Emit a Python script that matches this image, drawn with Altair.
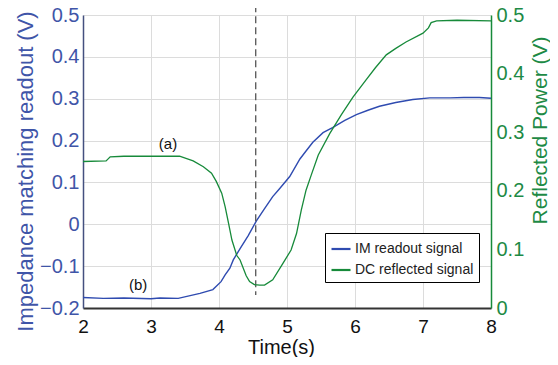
import altair as alt
import pandas as pd

# ---- data ----
im_time = [2.0, 2.3, 2.6, 3.0, 3.13, 3.4, 3.72, 3.91, 4.03, 4.09, 4.16, 4.21, 4.31, 4.43,
           4.55, 4.66, 4.79, 4.89, 5.04, 5.19, 5.28, 5.38, 5.53, 5.67, 5.85, 6.02, 6.2,
           6.36, 6.6, 6.85, 7.1, 7.4, 7.6, 7.83, 8.0]
im_value = [-0.175, -0.177, -0.176, -0.178, -0.176, -0.177, -0.165, -0.156, -0.137, -0.121,
            -0.105, -0.085, -0.058, -0.027, 0.008, 0.035, 0.066, 0.085, 0.114, 0.156, 0.175,
            0.196, 0.219, 0.231, 0.248, 0.262, 0.273, 0.282, 0.291, 0.298, 0.302, 0.302,
            0.303, 0.303, 0.301]

dc_time = [2.0, 2.34, 2.4, 2.6, 3.13, 3.42, 3.62, 3.77, 3.89, 3.96, 4.04, 4.09, 4.14, 4.19,
           4.26, 4.31, 4.40, 4.45, 4.52, 4.6, 4.67, 4.79, 4.94, 5.06, 5.14, 5.21, 5.28, 5.36,
           5.46, 5.63, 5.8, 5.97, 6.16, 6.3, 6.46, 6.6, 6.75, 7.0, 7.08, 7.12, 7.2, 7.5, 8.0]
dc_value = [0.250, 0.251, 0.258, 0.259, 0.259, 0.259, 0.251, 0.241, 0.230, 0.216, 0.196,
            0.173, 0.145, 0.116, 0.090, 0.082, 0.055, 0.045, 0.040, 0.039, 0.039, 0.048,
            0.076, 0.099, 0.127, 0.167, 0.201, 0.228, 0.261, 0.298, 0.330, 0.360, 0.389,
            0.410, 0.432, 0.443, 0.454, 0.469, 0.478, 0.487, 0.490, 0.491, 0.490]

series_names = ["IM readout signal", "DC reflected signal"]
x_ticks = [2, 3, 4, 5, 6, 7, 8]
left_ticks = [-0.2, -0.1, 0, 0.1, 0.2, 0.3, 0.4, 0.5]
right_ticks = [0, 0.1, 0.2, 0.3, 0.4, 0.5]
marker_time = [4.54]
marker_top = [0.523]
marker_bottom = [-0.169]
note_text = ["(a)", "(b)"]
note_time = [3.25, 2.81]
note_value = [0.191, -0.145]

BLUE_LINE = "#2f4bb0"
BLUE_TEXT = "#3f55a8"
GREEN_LINE = "#178a3a"
GREEN_TEXT = "#1d8a45"
FONT = "Liberation Sans"

im_df = pd.DataFrame({"t": im_time, "v": im_value, "series": series_names[0]})
dc_df = pd.DataFrame({"t": dc_time, "v": dc_value, "series": series_names[1]})
rule_df = pd.DataFrame({"t": marker_time, "y1": marker_top, "y2": marker_bottom})
note_df = pd.DataFrame({"t": note_time, "v": note_value, "label": note_text})

color = alt.Color(
    "series:N",
    scale=alt.Scale(domain=series_names, range=[BLUE_LINE, GREEN_LINE]),
    sort=series_names,
    legend=alt.Legend(
        title=None, orient="none", legendX=242, legendY=218, direction="vertical",
        symbolType="stroke", symbolSize=361, symbolStrokeWidth=2.2,
        labelFont=FONT, labelFontSize=14, labelColor="#222", labelOffset=3,
        fillColor="white", strokeColor="black", padding=5, rowPadding=3,
    ),
)

xenc = alt.X(
    "t:Q",
    scale=alt.Scale(domain=[2, 8], nice=False, zero=False),
    axis=alt.Axis(
        values=x_ticks, format="d", title="Time(s)", ticks=False, labelFlush=False,
        labelFont=FONT, labelFontSize=19, labelColor="#111", labelPadding=9,
        titleFont=FONT, titleFontSize=20, titleFontWeight="normal", titleColor="#111",
        titleX=198, titleY=49, titleBaseline="bottom", titleAlign="center",
        domainColor="#333", domainWidth=2, grid=True, gridColor="#dcdcdc",
    ),
)

left_axis = alt.Axis(
    values=left_ticks, title="Impedance matching readout (V)", labelFlush=False,
    labelExpr="datum.value == 0 ? '0' : replace(format(datum.value, '.1f'), '-', '\u2212')",
    labelFont=FONT, labelFontSize=20, labelColor=BLUE_TEXT, labelPadding=4, ticks=False,
    titleFont=FONT, titleFontSize=22, titleFontWeight="normal", titleColor=BLUE_TEXT,
    titleAngle=270, titleX=-58, titleY=156, titleBaseline="middle", titleAlign="center",
    domainColor="#44507f", domainWidth=1.5, grid=True, gridColor="#dcdcdc",
)

right_axis = alt.Axis(
    orient="right", values=right_ticks, title="Reflected Power (V)", labelFlush=False,
    labelExpr="datum.value == 0 ? '0' : format(datum.value, '.1f')",
    labelFont=FONT, labelFontSize=20, labelColor=GREEN_TEXT, labelPadding=5, ticks=False,
    titleFont=FONT, titleFontSize=21, titleFontWeight="normal", titleColor=GREEN_TEXT,
    titleAngle=270, titleX=55, titleY=115, titleBaseline="alphabetic", titleAlign="center",
    domainColor=GREEN_LINE, domainWidth=1.5, grid=False,
)

blue = alt.Chart(im_df).mark_line(strokeWidth=1.4).encode(
    x=xenc,
    y=alt.Y("v:Q", scale=alt.Scale(domain=[-0.2, 0.5], nice=False, zero=False), axis=left_axis),
    color=color,
    order="t:Q",
)

rule = alt.Chart(rule_df).mark_rule(strokeDash=[7, 4], color="#555", strokeWidth=1.3).encode(
    x="t:Q", y="y1:Q", y2="y2:Q"
)

notes = alt.Chart(note_df).mark_text(font=FONT, fontSize=15, color="#111").encode(
    x="t:Q", y="v:Q", text="label:N"
)

left = alt.layer(blue, rule, notes)

green = alt.Chart(dc_df).mark_line(strokeWidth=1.3).encode(
    x=xenc,
    y=alt.Y("v:Q", scale=alt.Scale(domain=[0, 0.5], nice=False, zero=False), axis=right_axis),
    color=color,
    order="t:Q",
)

chart = (
    alt.layer(left, green)
    .resolve_scale(y="independent")
    .properties(
        width=408, height=293,
        padding={"left": 75, "top": 7, "right": 59, "bottom": 49},
        autosize=alt.AutoSizeParams(type="none"),
        background="white",
    )
    .configure_view(strokeWidth=0)
)

chart.save("out.html", embed_options={"renderer": "svg", "actions": False})
